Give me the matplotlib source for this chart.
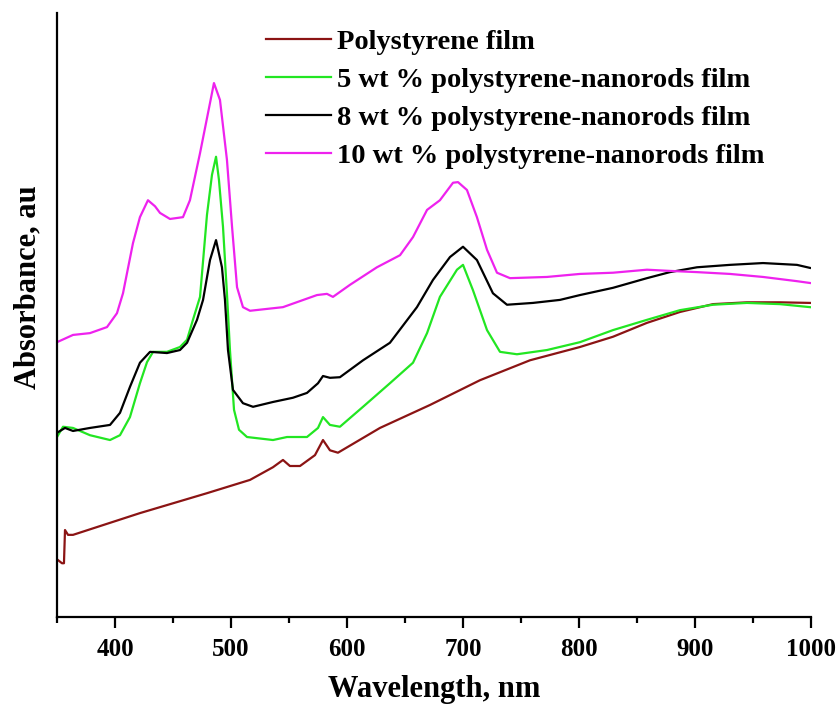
import matplotlib
matplotlib.use("Agg")
import matplotlib.pyplot as plt
from matplotlib.ticker import MultipleLocator

plt.rcParams['font.family'] = ['Liberation Serif', 'DejaVu Serif']
plt.rcParams['font.weight'] = 'bold'

# UV-Vis spectra (wavelength in nm, absorbance in arbitrary units)
wl_ps = [351, 354.3, 356, 356.9, 359.5, 363.8, 421.5, 479.3, 516.4, 536.2, 544.8, 550.8,
         559.5, 572.4, 579.3, 585.3, 592.2, 628.4, 671.5, 714.6, 757.7, 800.8, 829.3,
         858.6, 887.0, 915.5, 944.8, 973.2, 999.1]
abs_ps = [0.094, 0.089, 0.089, 0.144, 0.136, 0.136, 0.172, 0.205, 0.227, 0.248, 0.260, 0.250,
          0.250, 0.268, 0.293, 0.276, 0.272, 0.313, 0.351, 0.392, 0.425, 0.447, 0.464,
          0.487, 0.505, 0.518, 0.521, 0.521, 0.520]

wl_5 = [350, 355.2, 363.8, 378.4, 395.7, 404.3, 412.9, 421.5, 427.6, 432.8, 444.8, 456.0,
        462.1, 467.2, 473.3, 479.3, 483.6, 487.1, 489.6, 493.1, 496.5, 499.1, 502.6, 506.9,
        513.8, 536.2, 548.3, 565.5, 575.0, 579.3, 585.3, 593.9, 613.8, 637.0, 656.9, 669.0,
        680.1, 694.8, 700.0, 708.6, 720.7, 731.9, 746.5, 772.4, 800.8, 829.3, 858.6, 887.0,
        915.5, 944.8, 973.2, 999.1]
abs_5 = [0.298, 0.315, 0.313, 0.301, 0.293, 0.301, 0.331, 0.387, 0.422, 0.439, 0.439, 0.447,
         0.459, 0.492, 0.530, 0.666, 0.732, 0.762, 0.724, 0.646, 0.536, 0.442, 0.343, 0.310,
         0.298, 0.293, 0.298, 0.298, 0.313, 0.331, 0.318, 0.315, 0.348, 0.387, 0.421, 0.470,
         0.530, 0.575, 0.583, 0.541, 0.475, 0.439, 0.435, 0.442, 0.455, 0.475, 0.492, 0.508,
         0.517, 0.520, 0.518, 0.513]

wl_8 = [350, 356.9, 363.8, 378.4, 395.7, 404.3, 412.9, 421.5, 430.2, 444.8, 456.0, 462.1,
        470.7, 475.9, 481.9, 487.1, 492.2, 494.8, 497.4, 501.7, 510.3, 519.0, 536.2, 553.4,
        565.5, 575.0, 579.3, 585.3, 593.9, 613.8, 637.0, 660.3, 674.1, 688.8, 700.0, 712.0,
        725.8, 737.9, 760.3, 783.6, 800.8, 829.3, 858.6, 878.4, 901.7, 930.1, 958.6, 987.9,
        999.1]
abs_8 = [0.305, 0.313, 0.308, 0.313, 0.318, 0.338, 0.381, 0.421, 0.439, 0.437, 0.442, 0.454,
         0.492, 0.525, 0.591, 0.624, 0.579, 0.525, 0.442, 0.376, 0.354, 0.348, 0.356, 0.363,
         0.371, 0.387, 0.399, 0.396, 0.397, 0.425, 0.454, 0.513, 0.558, 0.596, 0.613, 0.591,
         0.536, 0.517, 0.520, 0.525, 0.533, 0.545, 0.561, 0.571, 0.579, 0.583, 0.586, 0.583,
         0.578]

wl_10 = [350, 363.8, 378.4, 393.1, 401.7, 406.9, 415.5, 421.5, 428.4, 434.5, 438.8, 447.4,
         458.6, 464.6, 473.3, 481.9, 485.3, 490.5, 496.5, 500.9, 505.2, 510.3, 516.4, 544.8,
         574.1, 582.7, 587.9, 602.6, 625.8, 645.7, 656.9, 669.0, 680.1, 691.4, 695.7, 703.4,
         712.0, 720.7, 729.3, 740.5, 772.4, 800.8, 829.3, 858.6, 878.4, 901.7, 930.1, 958.6,
         987.9, 999.1]
abs_10 = [0.455, 0.467, 0.470, 0.480, 0.503, 0.536, 0.619, 0.662, 0.690, 0.680, 0.669, 0.659,
          0.662, 0.690, 0.768, 0.851, 0.884, 0.856, 0.757, 0.646, 0.546, 0.513, 0.507, 0.513,
          0.533, 0.535, 0.530, 0.550, 0.579, 0.599, 0.629, 0.674, 0.690, 0.719, 0.720, 0.707,
          0.662, 0.608, 0.570, 0.561, 0.563, 0.568, 0.570, 0.575, 0.573, 0.571, 0.568, 0.563,
          0.556, 0.553]

labels = ['Polystyrene film',
          '5 wt % polystyrene-nanorods film',
          '8 wt % polystyrene-nanorods film',
          '10 wt % polystyrene-nanorods film']
colors = ['#8b1414', '#22e622', '#000000', '#ee22ee']
x_ticks = [400, 500, 600, 700, 800, 900, 1000]

W, H = 839, 711
fig = plt.figure(figsize=(W / 100, H / 100), dpi=100)
ax = fig.add_axes([57 / W, 1 - 617 / H, (811 - 57) / W, (617 - 13) / H])

series = [(wl_ps, abs_ps), (wl_5, abs_5), (wl_8, abs_8), (wl_10, abs_10)]
for (x, y), lab, c in zip(series, labels, colors):
    ax.plot(x, y, color=c, lw=1.6, label=lab)

ax.set_xlim(350, 1000)
ax.set_ylim(0, 1.0)
ax.set_xticks(x_ticks)
ax.set_xticklabels([str(t) for t in x_ticks])
ax.xaxis.set_minor_locator(MultipleLocator(50))
ax.set_yticks([])

for s in ['top', 'right']:
    ax.spines[s].set_visible(False)
for s in ['left', 'bottom']:
    ax.spines[s].set_linewidth(1.6)

ax.tick_params(axis='x', which='major', direction='out', length=8, width=1.6,
               labelsize=18, pad=7)
ax.tick_params(axis='x', which='minor', direction='out', length=4, width=1.6)
for lbl in ax.get_xticklabels():
    lbl.set_fontweight('bold')

fig.text(434 / W, 1 - 690 / H, 'Wavelength, nm', ha='center', va='center',
         fontsize=22, fontweight='bold')
fig.text(28 / W, 1 - 287 / H, 'Absorbance, au', ha='center', va='center',
         rotation=90, fontsize=22, fontweight='bold')

leg = ax.legend(loc='upper left', bbox_to_anchor=(266 / W, 1 - 29 / H),
                bbox_transform=fig.transFigure, frameon=False, borderpad=0,
                borderaxespad=0, handlelength=2.28, handletextpad=0.21,
                labelspacing=0.42, prop={'size': 20.5, 'weight': 'bold'})

fig.savefig('out.png', dpi=100)
